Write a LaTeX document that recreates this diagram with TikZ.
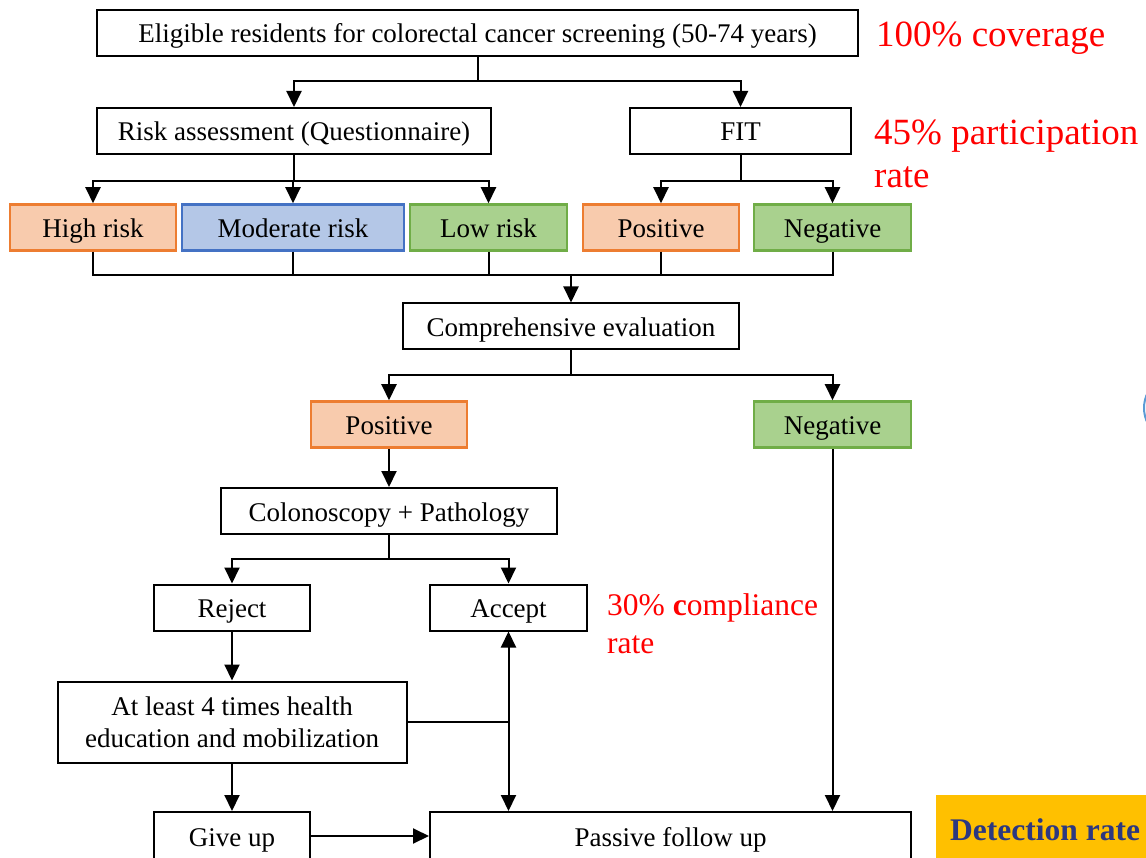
\documentclass[tikz,border=0pt]{standalone}
\usepackage{fontspec}
\setmainfont{Liberation Serif}
\usetikzlibrary{arrows.meta,positioning,calc}
\definecolor{orangefill}{RGB}{248,203,173}
\definecolor{orangeline}{RGB}{237,125,49}
\definecolor{bluefill}{RGB}{180,199,231}
\definecolor{blueline}{RGB}{68,114,196}
\definecolor{greenfill}{RGB}{169,209,142}
\definecolor{greenline}{RGB}{112,173,71}
\definecolor{gold}{RGB}{255,192,0}
\definecolor{navy}{RGB}{44,56,128}
\definecolor{ringblue}{RGB}{91,155,213}

\begin{document}
\begin{tikzpicture}
  [x=1pt,y=-1pt,
  plain/.style={rectangle,draw=black,line width=2pt,minimum height=46pt,inner sep=0pt,font=\fontsize{27}{32}\selectfont},
  box/.style={plain,text height=22pt,text depth=2pt},
  orangebox/.style={box,draw=orangeline,fill=orangefill,line width=2.5pt},
  bluebox/.style={box,draw=blueline,fill=bluefill,line width=2.5pt},
  greenbox/.style={box,draw=greenline,fill=greenfill,line width=2.5pt},
  note/.style={text=red,inner sep=0pt,anchor=base west,align=left},
  arr/.style={line width=2pt,-{Triangle[width=15pt,length=16pt]}},
  arrboth/.style={line width=2pt,{Triangle[width=15pt,length=16pt]}-{Triangle[width=15pt,length=16pt]}}]
  \useasboundingbox (0,0) rectangle (1146,858);
  \node (eligible) [box, minimum width=761pt] at (477.5,33) {Eligible residents for colorectal cancer screening (50-74 years)};
  \node (risk) [box, minimum width=394pt] at (294,131) {Risk assessment (Questionnaire)};
  \node (fit) [box, minimum width=221pt] at (740.5,131) {FIT};
  \node (high) [orangebox, minimum width=166pt] at (93,227.5) {High risk};
  \node (moderate) [bluebox, minimum width=222pt] at (293,227.5) {Moderate risk};
  \node (low) [greenbox, minimum width=157pt] at (488.5,227.5) {Low risk};
  \node (positive1) [orangebox, minimum width=156pt] at (661,227.5) {Positive};
  \node (negative1) [greenbox, minimum width=157pt] at (832.5,227.5) {Negative};
  \node (eval) [box, minimum width=336pt] at (571,326.5) {Comprehensive evaluation};
  \node (positive2) [orangebox, minimum width=156pt] at (389,424.5) {Positive};
  \node (negative2) [greenbox, minimum width=157pt] at (832.5,424.5) {Negative};
  \node (colono) [box, minimum width=336pt] at (389,511) {Colonoscopy + Pathology};
  \node (reject) [box, minimum width=156pt] at (232,607.5) {Reject};
  \node (accept) [box, minimum width=157pt] at (508.5,607.5) {Accept};
  \node (health) [plain, minimum width=349pt, minimum height=81pt, align=center] at (232,722) {At least 4 times health\\education and mobilization};
  \node (giveup) [box, minimum width=156pt, minimum height=48pt] at (232,836) {Give up};
  \node (passive) [box, minimum width=481pt, minimum height=48pt] at (670.5,836) {Passive follow up};
  % rates on the right
  \node (coverage) [note, font=\fontsize{37}{43}\selectfont] at (876,47) {100\% coverage};
  \node (participation) [note, font=\fontsize{37}{43}\selectfont] at (874,188) {45\% participation\\rate};
  \node (compliance) [note, font=\fontsize{31.5}{38}\selectfont] at (607,653) {30\% \textbf{c}ompliance\\rate};
  \fill[gold] (936,795) rectangle (1160,870);
  \node (detect) [inner sep=0pt, anchor=base west, text=navy, font=\fontsize{31.5}{38}\selectfont\bfseries] at (950,840) {Detection rate};
  \draw[ringblue, line width=2pt] (1192,408) ellipse (48 and 40);
  % connectors
  \draw[line width=2pt] (eligible.south) -- ++(0,24) coordinate (split1);
  \draw[arr] (split1) -| (risk.north);
  \draw[arr] (split1) -| (fit.north);
  \draw[line width=2pt] (risk.south) -- ++(0,26) coordinate (split2);
  \foreach \n in {high,moderate,low}
    \draw[arr] (split2) -| (\n.north);
  \draw[line width=2pt] (fit.south) -- ++(0,26) coordinate (split3);
  \foreach \n in {positive1,negative1}
    \draw[arr] (split3) -| (\n.north);
  \coordinate (join1) at ($(eval.north)+(0,-27)$);
  \foreach \n in {high,moderate,low,positive1,negative1}
    \draw[line width=2pt] (\n.south) |- (join1);
  \draw[arr] (join1) -- (eval.north);
  \draw[line width=2pt] (eval.south) -- ++(0,25) coordinate (split4);
  \draw[arr] (split4) -| (positive2.north);
  \draw[arr] (split4) -| (negative2.north);
  \draw[arr] (positive2) -- (colono);
  \draw[line width=2pt] (colono.south) -- ++(0,24) coordinate (split5);
  \draw[arr] (split5) -| (reject.north);
  \draw[arr] (split5) -| (accept.north);
  \draw[arr] (reject) -- (health);
  \draw[arr] (health) -- (giveup);
  \draw[arr] (giveup.east) -- (giveup.east -| passive.west);
  \draw[arrboth] (accept.south) -- (accept.south |- passive.north);
  \draw[line width=2pt] (health.east) -- (health.east -| accept.south);
  \draw[arr] (negative2.south) -- (negative2.south |- passive.north);
\end{tikzpicture}
\end{document}
